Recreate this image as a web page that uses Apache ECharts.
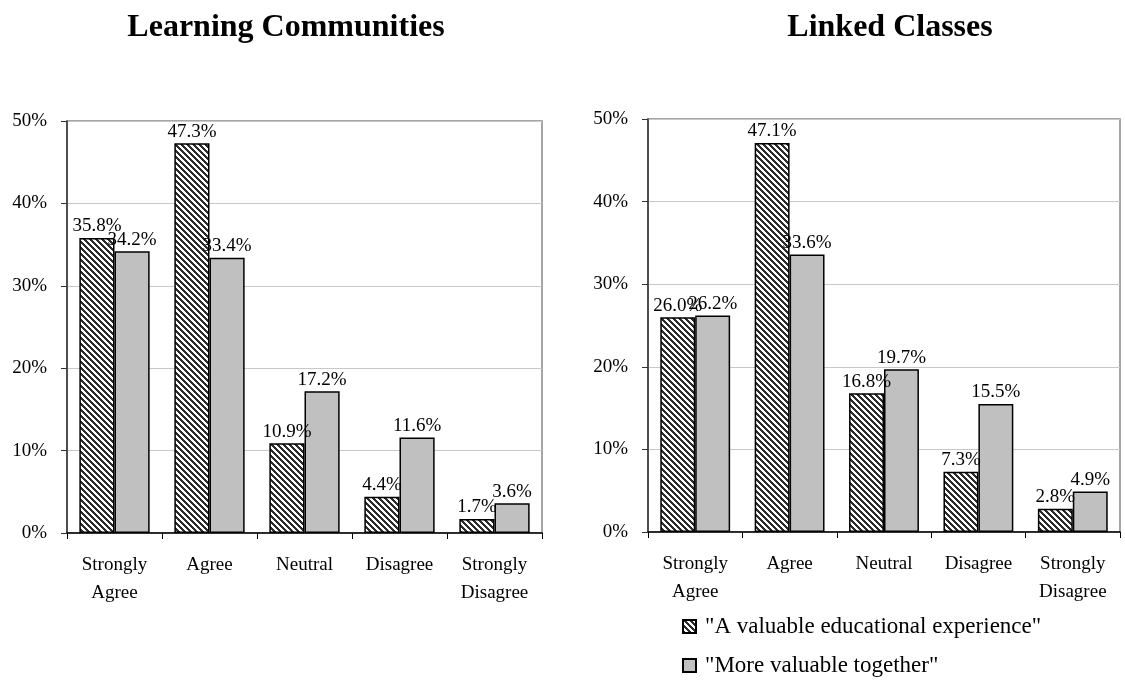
<!DOCTYPE html>
<html>
<head>
<meta charset="utf-8">
<script src="https://cdn.jsdelivr.net/npm/echarts@6/dist/echarts.min.js"></script>
<style>
  html, body { margin: 0; padding: 0; background: #fff; }
  #main { width: 1125px; height: 683px; }
</style>
</head>
<body>
<div id="main"></div>
<script>
// data
const categories = ['Strongly\nAgree', 'Agree', 'Neutral', 'Disagree', 'Strongly\nDisagree']
const lcValuable = [35.8, 47.3, 10.9, 4.4, 1.7]
const lcTogether = [34.2, 33.4, 17.2, 11.6, 3.6]
const linkedValuable = [26.0, 47.1, 16.8, 7.3, 2.8]
const linkedTogether = [26.2, 33.6, 19.7, 15.5, 4.9]
const seriesNames = ['"A valuable educational experience"', '"More valuable together"']
const titles = ['Learning Communities', 'Linked Classes']

const FONT = 'Liberation Serif'

// diagonal hatch pattern (\\\)
function makeHatch () {
    const s = 6
    const c = document.createElement('canvas')
    c.width = s; c.height = s
    const ctx = c.getContext('2d')
    const img = ctx.createImageData(s, s)
    for (let y = 0; y < s; y++) {
        for (let x = 0; x < s; x++) {
            const d = ((x - y) % s + s) % s
            const v = (d < 3) ? 45 : 255
            const i = (y * s + x) * 4
            img.data[i] = v; img.data[i + 1] = v; img.data[i + 2] = v; img.data[i + 3] = 255
        }
    }
    ctx.putImageData(img, 0, 0)
    return c
}
const hatch = { image: makeHatch(), repeat: 'repeat' }

const myChart = echarts.init(document.getElementById('main'))

function xAxisFor (idx) {
    return {
        type: 'category',
        gridIndex: idx,
        data: categories,
        axisLine: { lineStyle: { color: '#000', width: 1.5 } },
        axisTick: { show: true, length: 6, lineStyle: { color: '#000' } },
        axisLabel: { color: '#000', fontFamily: FONT, fontSize: 19, margin: 18, lineHeight: 28 }
    }
}
function yAxisFor (idx) {
    return {
        type: 'value',
        gridIndex: idx,
        min: 0, max: 50, interval: 10,
        axisLine: { show: true, lineStyle: { color: '#333', width: 1.5 } },
        axisTick: { show: true, length: 6, lineStyle: { color: '#333' } },
        axisLabel: { color: '#000', fontFamily: FONT, fontSize: 19, formatter: '{value}%', margin: 20 },
        splitLine: { lineStyle: { color: '#c8c8c8' } }
    }
}
function barSeries (name, data, idx, color) {
    return {
        name: name,
        type: 'bar',
        xAxisIndex: idx,
        yAxisIndex: idx,
        data: data,
        barGap: '0%',
        barCategoryGap: '26%',
        itemStyle: { color: color, borderColor: '#000', borderWidth: 1.5 },
        label: {
            show: true,
            position: 'top',
            distance: 2,
            color: '#000',
            fontFamily: FONT,
            fontSize: 19,
            formatter: p => p.value.toFixed(1) + '%'
        }
    }
}

myChart.setOption({
    animation: false,
    title: [
        { text: titles[0], left: 281, top: 7, textAlign: 'center',
          textStyle: { fontFamily: FONT, fontSize: 32, fontWeight: 'bold', color: '#000' } },
        { text: titles[1], left: 885, top: 7, textAlign: 'center',
          textStyle: { fontFamily: FONT, fontSize: 32, fontWeight: 'bold', color: '#000' } }
    ],
    legend: {
        data: seriesNames,
        orient: 'vertical',
        left: 682,
        top: 615,
        padding: 0,
        itemGap: 16,
        itemWidth: 13,
        itemHeight: 13,
        icon: 'rect',
        textStyle: { fontFamily: FONT, fontSize: 23, color: '#000', padding: [0, 0, 0, 4] }
    },
    grid: [
        { left: 67, right: 583, top: 121, bottom: 150, show: true, borderColor: '#888', borderWidth: 1.5 },
        { left: 648, right: 5, top: 119, bottom: 151, show: true, borderColor: '#888', borderWidth: 1.5 }
    ],
    xAxis: [xAxisFor(0), xAxisFor(1)],
    yAxis: [yAxisFor(0), yAxisFor(1)],
    series: [
        barSeries(seriesNames[0], lcValuable, 0, hatch),
        barSeries(seriesNames[1], lcTogether, 0, '#c0c0c0'),
        barSeries(seriesNames[0], linkedValuable, 1, hatch),
        barSeries(seriesNames[1], linkedTogether, 1, '#c0c0c0')
    ]
})
window.addEventListener('resize', myChart.resize)
</script>
</body>
</html>
